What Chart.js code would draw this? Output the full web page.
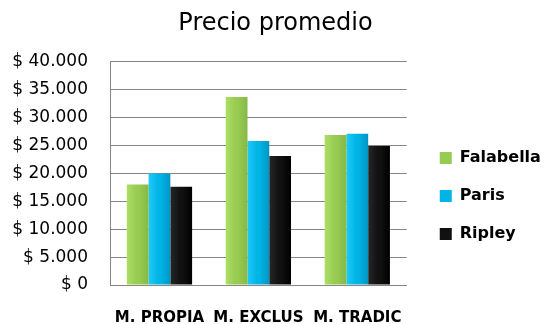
<!DOCTYPE html>
<html>
<head>
<meta charset="utf-8">
<script src="https://cdn.jsdelivr.net/npm/chart.js@4/dist/chart.umd.min.js"></script>
<style>
  html, body { margin: 0; padding: 0; background: #fff; }
  #wrap { width: 545px; height: 324px; }
</style>
</head>
<body>
<div id="wrap"><canvas id="precioChart"></canvas></div>
<script>
const categories = ['M. PROPIA', 'M. EXCLUS', 'M. TRADIC'];
const falabella = [18000, 33700, 26900];
const paris = [20000, 25800, 27100];
const ripley = [17600, 23100, 24900];

// left, right, middle colour of each bar (bevel look)
const shades = {
    Falabella: ['#addf66', '#86b846', '#98cb52'],
    Paris: ['#1fcaf7', '#0095c4', '#00b4e6'],
    Ripley: ['#262626', '#000000', '#111111']
};

const fmt = v => '$ ' + v.toLocaleString('de-DE');

// give each bar a left-to-right gradient so it looks bevelled
const bevel = {
    id: 'bevel',
    beforeDatasetsDraw(chart) {
        const c = chart.ctx;
        chart.data.datasets.forEach((ds, i) => {
            const s = shades[ds.label];
            chart.getDatasetMeta(i).data.forEach(bar => {
                const l = bar.x - bar.width / 2, r = bar.x + bar.width / 2;
                const g = c.createLinearGradient(l, 0, r, 0);
                g.addColorStop(0, s[0]);
                g.addColorStop(0.45, s[2]);
                g.addColorStop(0.55, s[2]);
                g.addColorStop(1, s[1]);
                bar.options = Object.assign({}, bar.options, { backgroundColor: g });
            });
        });
    }
};

// leave a wider gap between the plot and the legend
const legendGap = {
    id: 'legendGap',
    afterLayout(chart) {
        chart.legend.left += 11;
        chart.legend.right += 11;
    }
};

new Chart(document.getElementById('precioChart'), {
    type: 'bar',
    data: {
        labels: categories,
        datasets: [
            { label: 'Falabella', data: falabella, backgroundColor: '#98cb52' },
            { label: 'Paris', data: paris, backgroundColor: '#00b4e6' },
            { label: 'Ripley', data: ripley, backgroundColor: '#111111' }
        ]
    },
    options: {
        responsive: true,
        maintainAspectRatio: false,
        animation: false,
        layout: { padding: { left: 13, right: 7, bottom: 0 } },
        datasets: { bar: { categoryPercentage: 0.66, barPercentage: 1 } },
        scales: {
            x: {
                // invisible tick marks push the labels down
                grid: { drawOnChartArea: false, drawTicks: true, tickLength: 24, tickColor: 'rgba(0,0,0,0)' },
                border: { color: '#868686' },
                afterFit: s => { s.height = 39; },
                ticks: {
                    color: '#000',
                    padding: 0,
                    maxRotation: 0,
                    autoSkip: false,
                    font: { family: 'DejaVu Sans', size: 15, weight: 'bold' }
                }
            },
            y: {
                min: 0,
                max: 40000,
                grid: { color: '#868686', drawTicks: false },
                border: { color: '#868686' },
                afterFit: s => { s.width = 97; },
                ticks: {
                    stepSize: 5000,
                    color: '#000',
                    padding: 22,
                    callback: v => fmt(v),
                    font: { family: 'DejaVu Sans', size: 17 }
                }
            }
        },
        plugins: {
            title: {
                display: true,
                text: 'Precio promedio',
                color: '#000',
                font: { family: 'DejaVu Sans', size: 24, weight: 'normal' },
                padding: { top: 9, bottom: 24 }
            },
            legend: {
                position: 'right',
                title: { display: true, text: ' ', padding: 22, font: { size: 20 } },
                labels: {
                    color: '#000',
                    boxWidth: 12,
                    boxHeight: 12,
                    padding: 22,
                    font: { family: 'DejaVu Sans', size: 16, weight: 'bold' }
                }
            },
            tooltip: { enabled: false }
        }
    },
    plugins: [bevel, legendGap]
});
</script>
</body>
</html>
